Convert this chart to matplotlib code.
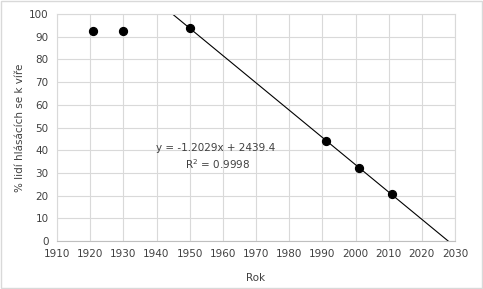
import matplotlib

matplotlib.use("Agg")
import matplotlib.pyplot as plt
import numpy as np
from matplotlib.patches import Rectangle

# data
years = [1921, 1930, 1950, 1991, 2001, 2011]
percent = [92.6, 92.3, 93.8, 43.9, 32.0, 20.6]

# trendline reported in the chart
slope = -1.2029
intercept = 2439.4
r2 = 0.9998

x_ticks = list(range(1910, 2031, 10))
y_ticks = list(range(0, 101, 10))


def main():
    plt.rcParams["font.family"] = ["DejaVu Sans"]
    fig = plt.figure(figsize=(4.83, 2.89), dpi=100)
    ax = fig.add_axes([57 / 483, 1 - 241 / 289, 398 / 483, 227 / 289])

    tx = np.array([1940, 2030])
    ax.plot(tx, slope * tx + intercept, color="black", linewidth=0.8, zorder=2)
    ax.scatter(years, percent, s=32, color="black", zorder=3)

    ax.set_xlim(1910, 2030)
    ax.set_ylim(0, 100)
    ax.set_xticks(x_ticks)
    ax.set_yticks(y_ticks)
    ax.grid(True, color="#d9d9d9", linewidth=0.8)
    ax.set_axisbelow(True)
    ax.tick_params(length=0, labelsize=7.5, colors="#404040", pad=6)
    for s in ax.spines.values():
        s.set_color("#d9d9d9")
        s.set_linewidth(0.8)
    ax.spines["bottom"].set_color("#bfbfbf")

    ax.set_xlabel("Rok", fontsize=7.5, color="#404040", labelpad=10)
    ax.set_ylabel("% lidí hlásácích se k víře", fontsize=7.5, color="#404040",
                  labelpad=3)

    ax.text(1957.8, 41, f"y = {slope}x + {intercept}", fontsize=7.5,
            color="#404040", ha="center", va="center")
    ax.text(1958.3, 34, f"R$^2$ = {r2}", fontsize=7.5,
            color="#404040", ha="center", va="center")

    fig.patches.append(Rectangle((0.002, 0.003), 0.996, 0.994, transform=fig.transFigure,
                                 fill=False, edgecolor="#d9d9d9", linewidth=1))
    fig.savefig("out.png", dpi=100)
    plt.close(fig)


if __name__ == "__main__":
    main()
